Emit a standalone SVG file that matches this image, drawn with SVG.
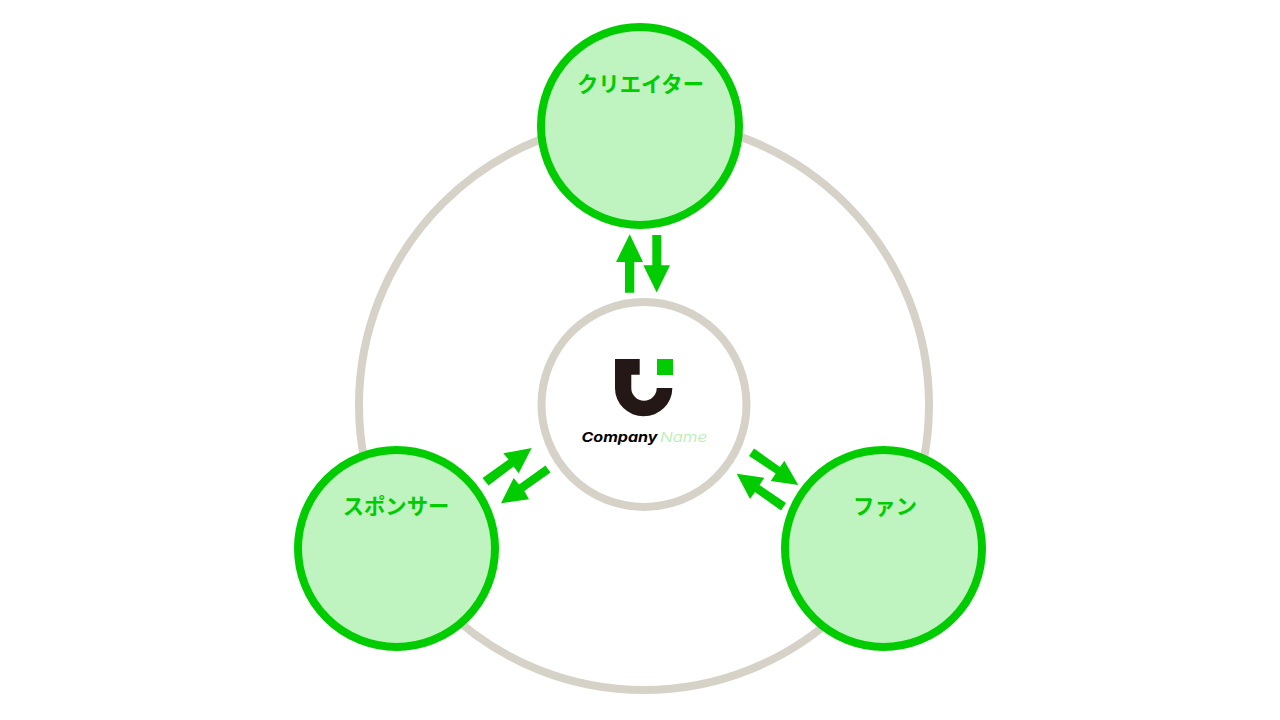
<svg xmlns="http://www.w3.org/2000/svg" width="1280" height="720" viewBox="0 0 1280 720">
<style>
.ring{fill:none;stroke:#d6d2c8;stroke-width:8}
.hub{fill:#fff;stroke:#d6d2c8;stroke-width:8}
.node{fill:#bff3bf;stroke:#00cc00;stroke-width:8}
.label{font-family:"Noto Sans CJK JP","Noto Sans",sans-serif;font-size:21px;font-weight:700;fill:#00cc00;text-anchor:middle}
.arrow{fill:#00cc00}
.co{font-family:Inter,"Liberation Sans",sans-serif;font-size:13.5px;font-style:italic}
</style>
<rect width="1280" height="720" fill="#fff"/>
<circle id="outer-ring" class="ring" cx="644" cy="405" r="285"/>
<g id="hub">
<circle class="hub" cx="644" cy="404.5" r="102.5"/>
<path d="M615 359H639.7V374.7H631.3V388A12.7 12.7 0 0 0 656.7 388H672.3V388.3A28.65 28 0 0 1 615 388.3Z" fill="#231815"/>
<rect x="657" y="359" width="16" height="16" fill="#00cc00"/>
<text class="co" x="581.5" y="442" font-weight="700" fill="#000" textLength="76" lengthAdjust="spacingAndGlyphs">Company</text>
<text class="co" x="660" y="442" font-weight="300" fill="#aeeeae" textLength="47" lengthAdjust="spacingAndGlyphs">Name</text>
</g>
<g id="creator">
<circle class="node" cx="640" cy="126" r="99"/>
<text class="label" x="640.5" y="91.5" style="font-size:21.3px">クリエイター</text>
</g>
<g id="sponsor">
<circle class="node" cx="396.5" cy="548.5" r="98.5"/>
<text class="label" x="396" y="513.5" style="font-size:21.3px">スポンサー</text>
</g>
<g id="fan">
<circle class="node" cx="883.5" cy="548.5" r="98.5"/>
<text class="label" x="885" y="513.5" style="font-size:21.3px">ファン</text>
</g>
<g id="connectors" class="arrow">
<polygon points="629.7,234.3 643,262 634.3,262 634.3,292.7 625,292.7 625,262 616,262"/>
<polygon points="652.3,235 661.3,235 661.3,265.3 670,265.3 656.7,292.5 643.3,265.3 652.3,265.3"/>
<polygon points="531.7,448 518.7,473.3 513.5,466.5 488.5,485.5 482.5,478 508.5,459.5 503.3,453.3"/>
<polygon points="501,503.3 513.7,478 519,484.5 545.5,465.5 550.5,472.5 524.3,491 529,499.3"/>
<polygon points="754,448.5 780,467 784.3,460.7 798.3,485 770.7,481 775.7,473.5 749,456"/>
<polygon points="736.7,473.7 764.3,477.7 759.5,485 786,503 781,510.5 755,492 750,499"/>
</g>
</svg>
